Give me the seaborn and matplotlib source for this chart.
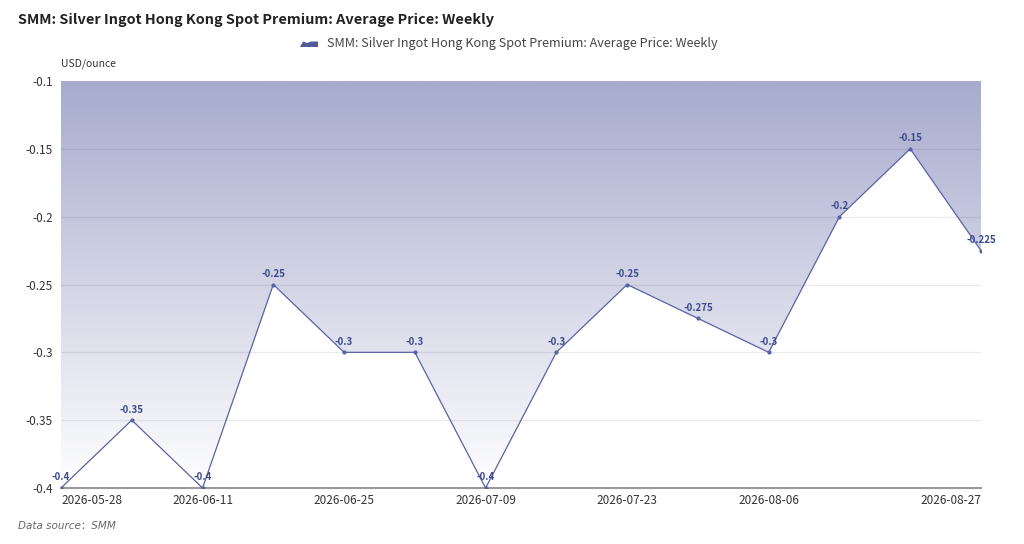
import numpy as np
import pandas as pd
import matplotlib
matplotlib.use("Agg")
import matplotlib.pyplot as plt
import seaborn as sns
from matplotlib.colors import LinearSegmentedColormap
from matplotlib.patches import Polygon

dates = ["2026-05-28", "2026-06-04", "2026-06-11", "2026-06-18", "2026-06-25",
         "2026-07-02", "2026-07-09", "2026-07-16", "2026-07-23", "2026-07-30",
         "2026-08-06", "2026-08-13", "2026-08-20", "2026-08-27"]
values = [-0.4, -0.35, -0.4, -0.25, -0.3, -0.3, -0.4, -0.3, -0.25, -0.275,
          -0.3, -0.2, -0.15, -0.225]
value_labels = ["-0.4", "-0.35", "-0.4", "-0.25", "-0.3", "-0.3", "-0.4", "-0.3",
                "-0.25", "-0.275", "-0.3", "-0.2", "-0.15", "-0.225"]
yticks = [-0.4, -0.35, -0.3, -0.25, -0.2, -0.15, -0.1]
ytick_labels = ["-0.4", "-0.35", "-0.3", "-0.25", "-0.2", "-0.15", "-0.1"]
shown_xlabels = ["2026-05-28", "2026-06-11", "2026-06-25", "2026-07-09",
                 "2026-07-23", "2026-08-06", "2026-08-27"]

title = "SMM: Silver Ingot Hong Kong Spot Premium: Average Price: Weekly"
unit = "USD/ounce"
source = "Data source：SMM"

sns.set_theme(style="white")
plt.rcParams['font.family'] = ['Noto Sans CJK SC', 'DejaVu Sans']

df = pd.DataFrame({"idx": np.arange(len(dates)), "date": dates, "value": values})

fig = plt.figure(figsize=(10.24, 5.44), dpi=100)
ax = fig.add_axes([61/1024, 1 - 488/544, (981-61)/1024, (488-81)/544])

line_color = "#5a62a3"
ymin, ymax = -0.4, -0.1
n = len(dates)

# gradient fill above the line
cmap = LinearSegmentedColormap.from_list("g", ["#ffffff", "#a7abcd"])
grad = np.linspace(0, 1, 256).reshape(-1, 1)
im = ax.imshow(grad, cmap=cmap, aspect="auto", origin="lower",
               extent=[0, n - 1, ymin, ymax], zorder=0)
poly_pts = [(i, v) for i, v in enumerate(values)] + [(n - 1, ymax), (0, ymax)]
poly = Polygon(poly_pts, closed=True, transform=ax.transData, facecolor="none", edgecolor="none")
ax.add_patch(poly)
im.set_clip_path(poly)

sns.lineplot(data=df, x="idx", y="value", ax=ax, color=line_color, linewidth=0.9,
             marker="o", markersize=3, markeredgewidth=0, zorder=3)

for i, (v, lab) in enumerate(zip(values, value_labels)):
    ax.annotate(lab, (i, v), xytext=(0, 4), textcoords="offset points",
                ha="center", va="bottom", fontsize=7, color="#3f4a8c",
                fontweight="bold", zorder=4)

ax.set_xlim(0, n - 1)
ax.set_ylim(ymin, ymax)
ax.set_yticks(yticks)
ax.set_yticklabels(ytick_labels)
for yv in yticks[1:-1]:
    ax.axhline(yv, color=(0.1, 0.1, 0.25, 0.09), linewidth=0.9, zorder=2)

xt = [dates.index(d) for d in shown_xlabels]
ax.set_xticks(xt)
ax.set_xticklabels(shown_xlabels)
labels = ax.get_xticklabels()
labels[0].set_ha("left")
labels[-1].set_ha("right")
ax.tick_params(axis="x", length=0, pad=4, labelsize=8.5, labelcolor="#333333")
ax.tick_params(axis="y", length=0, pad=6, labelsize=8.5, labelcolor="#333333")
for s in ["top", "right", "left"]:
    ax.spines[s].set_visible(False)
ax.spines["bottom"].set_color("#9a9a9a")
ax.spines["bottom"].set_linewidth(1.5)
ax.set_xlabel("")
ax.set_ylabel("")

fig.text(18/1024, 1 - 20/544, title, fontsize=10.4, fontweight="bold",
         color="#222222", va="center", ha="left")
# legend
fig.patches.append(Polygon([(300/1024, 1-47/544), (303/1024, 1-41.5/544), (307/1024, 1-43/544),
                            (311/1024, 1-41.5/544), (318/1024, 1-41.5/544), (318/1024, 1-47/544)],
                           closed=True, transform=fig.transFigure, facecolor="#4f5a9c",
                           edgecolor="none"))
fig.text(327/1024, 1 - 44/544, title, fontsize=9.1, color="#444444", va="center", ha="left")
fig.text(61/1024, 1 - 64/544, unit, fontsize=7.5, color="#333333", va="center", ha="left")
fig.text(18/1024, 1 - 526/544, source, fontsize=7.5, color="#666666", style="italic",
         family=['DejaVu Sans', 'Noto Sans CJK SC'], va="center", ha="left")

fig.savefig("out.png", dpi=100)
